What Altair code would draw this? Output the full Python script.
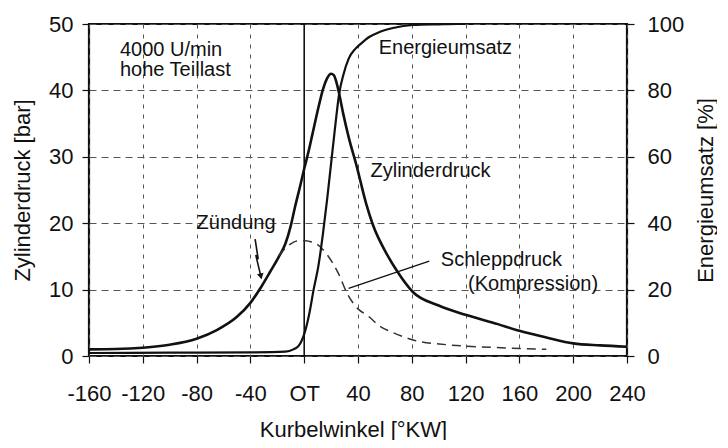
import altair as alt
import pandas as pd

# Zylinderdruck [bar] over Kurbelwinkel [°KW]
zyl_kw = [-160, -140, -120, -100, -80, -65, -50, -40, -32, -25, -19, -14, -10, -7, -3, 0, 3, 6, 11, 14, 17, 20, 22, 24, 26, 29, 33, 39, 46, 51, 61, 69, 81, 100, 120, 144, 160, 180, 200, 220, 240]
zyl_bar = [1.0, 1.05, 1.25, 1.7, 2.6, 3.9, 5.9, 8.0, 10.4, 12.8, 14.9, 16.9, 19.6, 22.3, 25.6, 28.2, 30.6, 33.3, 37.8, 40.2, 41.8, 42.5, 42.3, 41.2, 39.5, 36.5, 33.0, 28.6, 23.0, 19.8, 15.5, 12.8, 9.6, 7.6, 6.2, 4.8, 3.8, 2.8, 1.9, 1.6, 1.4]

# Schleppdruck (Kompression) [bar]
sch_kw = [-19, -14, -10, -6, -2, 3, 9, 16.5, 25.5, 31.5, 40, 47, 57, 64, 75, 81, 106, 140, 180]
sch_bar = [15.1, 16.2, 16.9, 17.3, 17.4, 17.3, 16.9, 15.4, 12.4, 9.6, 7.1, 6.1, 4.4, 3.7, 2.8, 2.4, 1.7, 1.3, 1.0]

# Energieumsatz [%]
en_kw = [-160, -100, -40, -14, -8, -4, -2, 0, 2, 4, 7, 10.5, 14, 17, 20, 23, 26, 29, 33, 38, 42, 48, 56, 66, 81, 100, 114, 120]
en_pct = [0.9, 1.0, 1.1, 1.3, 2.0, 3.1, 4.5, 6.6, 9.5, 13.2, 20, 27, 37, 47, 58, 69, 79, 84.5, 89.5, 92.5, 94, 96, 97.6, 98.8, 99.7, 99.9, 100, 100]

# annotations
txt_label = ["4000 U/min", "hohe Teillast", "Zündung", "Energieumsatz", "Zylinderdruck", "Schleppdruck", "(Kompression)"]
txt_kw = [-137, -137, -80, 55.4, 49.3, 101.6, 121.8]
txt_bar = [45.2, 42.2, 19.1, 45.5, 26.9, 13.5, 9.9]

leader_kw = [33, 93]
leader_bar = [10.2, 14.3]

flash_kw = [-36.5, -34.2, -36.0, -32.2]
flash_bar = [17.6, 14.6, 15.2, 12.0]
flash_order = [0, 1, 2, 3]

x_ticks = [-160, -120, -80, -40, 0, 40, 80, 120, 160, 200, 240]
yl_ticks = [0, 10, 20, 30, 40, 50]
yr_ticks = [0, 20, 40, 60, 80, 100]

FONT = "Liberation Sans"
INK = "#111111"

xscale = alt.Scale(domain=[-160, 240], nice=False, zero=False)
xaxis = alt.Axis(
    values=x_ticks, labelExpr="datum.value == 0 ? 'OT' : '' + datum.value",
    title="Kurbelwinkel [°KW]", grid=True, gridDash=[4, 6], gridColor="#555555", gridWidth=1,
    tickSize=7, labelPadding=37, labelBaseline="alphabetic", labelFontSize=22,
    labelOverlap=False, labelFlush=False,
    titleFontSize=22, titleFontWeight="normal", titleX=264, titleY=80,
    titleBaseline="alphabetic", titleAlign="center", domain=False,
)
X = alt.X("kw:Q", scale=xscale, axis=xaxis)

ylscale = alt.Scale(domain=[0, 50], nice=False)
ylaxis = alt.Axis(
    values=yl_ticks, title="Zylinderdruck [bar]", grid=True, gridDash=[7, 5],
    gridColor="#555555", gridWidth=1, tickSize=7, labelPadding=9, labelFontSize=22,
    labelOverlap=False, labelFlush=False,
    titleFontSize=22, titleFontWeight="normal", titleX=-67, titleY=166, titleAngle=270,
    titleBaseline="middle", titleAlign="center", domain=False,
)
YL = alt.Y("bar:Q", scale=ylscale, axis=ylaxis)

yrscale = alt.Scale(domain=[0, 100], nice=False)
yraxis = alt.Axis(
    values=yr_ticks, orient="right", title="Energieumsatz [%]", grid=False,
    tickSize=7, labelPadding=13, labelFontSize=22, labelOverlap=False, labelFlush=False,
    titleFontSize=22, titleFontWeight="normal", titleX=78, titleY=166, titleAngle=270,
    titleBaseline="middle", titleAlign="center", domain=False,
)

zyl_df = pd.DataFrame({"kw": zyl_kw, "bar": zyl_bar})
sch_df = pd.DataFrame({"kw": sch_kw, "bar": sch_bar})
en_df = pd.DataFrame({"kw": en_kw, "pct": en_pct})
txt_df = pd.DataFrame({"kw": txt_kw, "bar": txt_bar, "label": txt_label})
lead_df = pd.DataFrame({"kw": leader_kw, "bar": leader_bar})
flash_df = pd.DataFrame({"kw": flash_kw, "bar": flash_bar, "o": flash_order})
ot_df = pd.DataFrame({"kw": [0]})

ot_rule = alt.Chart(ot_df).mark_rule(color=INK, strokeWidth=1.6).encode(x=X)

zyl = alt.Chart(zyl_df).mark_line(color=INK, strokeWidth=2.6, interpolate="monotone").encode(x=X, y=YL)
sch = alt.Chart(sch_df).mark_line(color="#333333", strokeWidth=1.5, strokeDash=[9, 6], interpolate="monotone").encode(x=X, y=YL)
texts = alt.Chart(txt_df).mark_text(
    align="left", baseline="alphabetic", fontSize=20, font=FONT, color=INK
).encode(x=X, y=YL, text="label:N")
lead = alt.Chart(lead_df).mark_line(color=INK, strokeWidth=1.3).encode(x=X, y=YL)
flash = alt.Chart(flash_df).mark_line(color=INK, strokeWidth=1.6).encode(x=X, y=YL, order="o:Q")
flash_head = alt.Chart(flash_df.tail(1)).mark_point(
    shape="triangle-down", filled=True, size=45, color=INK, opacity=1, angle=347
).encode(x=X, y=YL)

left = alt.layer(ot_rule, zyl, sch, lead, flash, flash_head, texts)

energy = alt.Chart(en_df).mark_line(color=INK, strokeWidth=2.2, interpolate="monotone").encode(
    x=X, y=alt.Y("pct:Q", scale=yrscale, axis=yraxis)
)

chart = alt.layer(left, energy).resolve_scale(y="independent").properties(
    width=538, height=332,
    autosize=alt.AutoSizeParams(type="none"),
    padding={"left": 81, "top": 16, "right": 90, "bottom": 84},
    background="white",
).configure_view(stroke=INK, strokeWidth=2.2).configure_axis(
    labelFont=FONT, titleFont=FONT, labelColor=INK, titleColor=INK, tickColor=INK, tickWidth=1.2
)

chart.save("out.html", embed_options={"renderer": "svg", "actions": False})
